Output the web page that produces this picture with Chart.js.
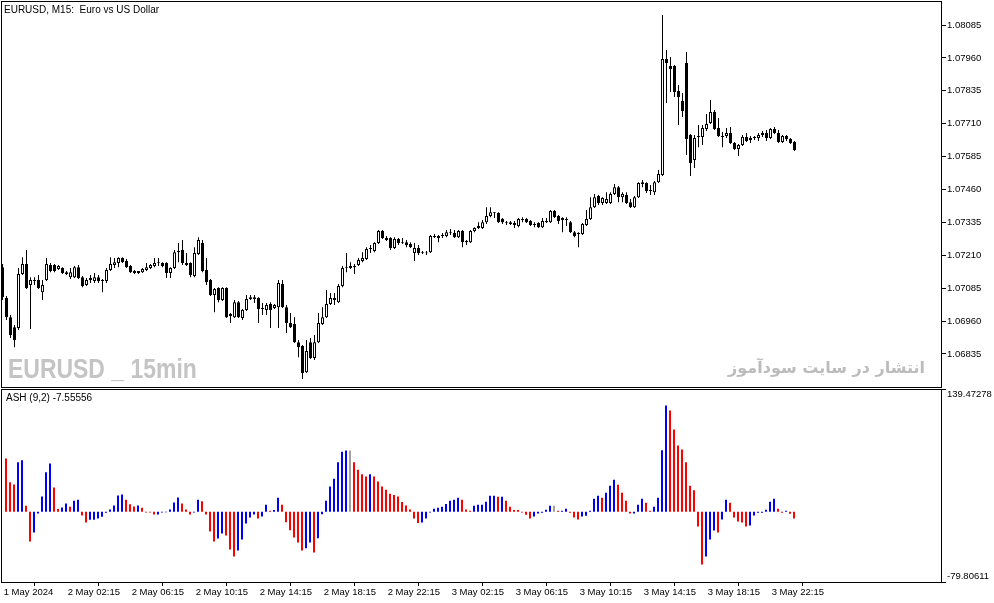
<!DOCTYPE html>
<html lang="en">
<head>
<meta charset="UTF-8">
<title>EURUSD M15 + ASH</title>
<script src="https://cdn.jsdelivr.net/npm/chart.js"></script>
<style>
  body { margin: 0; background: #fff; width: 994px; height: 603px; overflow: hidden; position: relative; }
  canvas { position: absolute; left: 0; }
  .txt { position: absolute; white-space: nowrap; font-family: 'Liberation Sans', Arial, sans-serif; color: #000; }
</style>
</head>
<body>
<canvas id="priceChart" width="994" height="388" style="top:0"></canvas>
<canvas id="ashChart" width="994" height="215" style="top:388px"></canvas>

<div class="txt" style="left:4px; top:4px; font-size:10px; line-height:12px;">EURUSD, M15:&nbsp; Euro vs US Dollar</div>
<div class="txt" style="left:6px; top:392px; font-size:10px; line-height:12px;">ASH (9,2) -7.55556</div>
<div class="txt" style="left:8px; top:355px; font-size:28px; line-height:28px; font-weight:bold; color:#c4c4c4; transform:scaleX(0.82); transform-origin:left top;">EURUSD _ 15min</div>
<div class="txt" dir="rtl" style="right:69px; top:357px; font-family:'DejaVu Sans', sans-serif; font-size:16px; line-height:22px; font-weight:bold; color:#bcbcbc;">انتشار در سایت سودآموز</div>

<script>
// 15 min bars, 1 May 22:15 .. 3 May 23:45
const timeLabels = ['1 May 2024', '2 May 02:15', '2 May 06:15', '2 May 10:15', '2 May 14:15', '2 May 18:15',
  '2 May 22:15', '3 May 02:15', '3 May 06:15', '3 May 10:15', '3 May 14:15', '3 May 18:15', '3 May 22:15'];
const priceTicks = [1.06835, 1.06960, 1.07085, 1.07210, 1.07335, 1.07460, 1.07585, 1.07710, 1.07835, 1.07960, 1.08085];
const ashRange = [-79.80611, 139.47278];

const openP = [
  1.07165, 1.07048, 1.06975, 1.06937, 1.06934, 1.07139, 1.07177, 1.07097, 1.07112, 1.07116,
  1.07070, 1.07116, 1.07173, 1.07173, 1.07158, 1.07162, 1.07146, 1.07127, 1.07127, 1.07165,
  1.07127, 1.07097, 1.07116, 1.07112, 1.07127, 1.07116, 1.07112, 1.07154, 1.07173, 1.07181,
  1.07200, 1.07188, 1.07169, 1.07150, 1.07150, 1.07146, 1.07154, 1.07162, 1.07169, 1.07181,
  1.07181, 1.07181, 1.07143, 1.07162, 1.07222, 1.07230, 1.07181, 1.07181, 1.07131, 1.07215,
  1.07257, 1.07154, 1.07116, 1.07059, 1.07086, 1.07040, 1.07086, 1.06987, 1.06975, 1.07032,
  1.06972, 1.07002, 1.07044, 1.07044, 1.07048, 1.07010, 1.07002, 1.07025, 1.07010, 1.07013,
  1.07101, 1.07013, 1.06953, 1.06949, 1.06880, 1.06865, 1.06766, 1.06880, 1.06820, 1.06880,
  1.06949, 1.06975, 1.07025, 1.07048, 1.07032, 1.07093, 1.07162, 1.07162, 1.07169, 1.07173,
  1.07188, 1.07196, 1.07234, 1.07226, 1.07257, 1.07302, 1.07276, 1.07276, 1.07238, 1.07272,
  1.07260, 1.07260, 1.07253, 1.07219, 1.07238, 1.07222, 1.07221, 1.07222, 1.07283, 1.07283,
  1.07283, 1.07283, 1.07298, 1.07295, 1.07279, 1.07302, 1.07264, 1.07260, 1.07302, 1.07314,
  1.07314, 1.07336, 1.07359, 1.07374, 1.07371, 1.07348, 1.07336, 1.07336, 1.07333, 1.07321,
  1.07348, 1.07348, 1.07340, 1.07329, 1.07333, 1.07317, 1.07340, 1.07336, 1.07378, 1.07359,
  1.07352, 1.07348, 1.07336, 1.07298, 1.07295, 1.07291, 1.07325, 1.07348, 1.07393, 1.07435,
  1.07409, 1.07409, 1.07409, 1.07443, 1.07469, 1.07431, 1.07439, 1.07412, 1.07393, 1.07431,
  1.07481, 1.07485, 1.07458, 1.07450, 1.07488, 1.07515, 1.07956, 1.07929, 1.07929, 1.07834,
  1.07796, 1.07941, 1.07667, 1.07572, 1.07659, 1.07659, 1.07690, 1.07713, 1.07754, 1.07694,
  1.07663, 1.07663, 1.07675, 1.07637, 1.07614, 1.07629, 1.07659, 1.07648, 1.07656, 1.07656,
  1.07667, 1.07675, 1.07656, 1.07690, 1.07675, 1.07640, 1.07663, 1.07652, 1.07640
];
const highP = [
  1.07177, 1.07055, 1.06983, 1.06945, 1.07162, 1.07203, 1.07230, 1.07127, 1.07127, 1.07135,
  1.07116, 1.07200, 1.07181, 1.07177, 1.07173, 1.07165, 1.07150, 1.07162, 1.07169, 1.07173,
  1.07131, 1.07124, 1.07135, 1.07143, 1.07135, 1.07120, 1.07162, 1.07203, 1.07200, 1.07203,
  1.07203, 1.07196, 1.07173, 1.07154, 1.07150, 1.07162, 1.07181, 1.07177, 1.07200, 1.07200,
  1.07184, 1.07184, 1.07165, 1.07230, 1.07257, 1.07268, 1.07219, 1.07184, 1.07241, 1.07279,
  1.07268, 1.07200, 1.07120, 1.07086, 1.07089, 1.07089, 1.07089, 1.06991, 1.07040, 1.07036,
  1.07006, 1.07059, 1.07059, 1.07059, 1.07051, 1.07029, 1.07029, 1.07032, 1.07025, 1.07116,
  1.07116, 1.07021, 1.06991, 1.06975, 1.06888, 1.06869, 1.06888, 1.06896, 1.06907, 1.06991,
  1.07013, 1.07078, 1.07067, 1.07067, 1.07101, 1.07169, 1.07219, 1.07184, 1.07177, 1.07200,
  1.07222, 1.07241, 1.07249, 1.07260, 1.07306, 1.07306, 1.07283, 1.07279, 1.07279, 1.07276,
  1.07276, 1.07268, 1.07260, 1.07257, 1.07249, 1.07226, 1.07226, 1.07287, 1.07291, 1.07287,
  1.07295, 1.07306, 1.07310, 1.07306, 1.07306, 1.07306, 1.07268, 1.07306, 1.07317, 1.07336,
  1.07344, 1.07393, 1.07393, 1.07374, 1.07374, 1.07352, 1.07340, 1.07340, 1.07340, 1.07352,
  1.07355, 1.07352, 1.07344, 1.07336, 1.07336, 1.07352, 1.07352, 1.07382, 1.07382, 1.07363,
  1.07355, 1.07355, 1.07340, 1.07302, 1.07298, 1.07333, 1.07382, 1.07431, 1.07443, 1.07439,
  1.07431, 1.07450, 1.07450, 1.07481, 1.07473, 1.07450, 1.07450, 1.07424, 1.07435, 1.07488,
  1.07496, 1.07488, 1.07477, 1.07492, 1.07534, 1.08123, 1.07990, 1.07963, 1.07933, 1.07857,
  1.07827, 1.07982, 1.07671, 1.07667, 1.07705, 1.07705, 1.07747, 1.07800, 1.07762, 1.07732,
  1.07678, 1.07694, 1.07697, 1.07640, 1.07633, 1.07667, 1.07675, 1.07663, 1.07663, 1.07675,
  1.07682, 1.07686, 1.07694, 1.07697, 1.07686, 1.07667, 1.07667, 1.07656, 1.07644
];
const lowP = [
  1.07040, 1.06964, 1.06896, 1.06861, 1.06926, 1.07135, 1.07082, 1.06930, 1.07097, 1.07082,
  1.07040, 1.07112, 1.07146, 1.07146, 1.07154, 1.07139, 1.07135, 1.07120, 1.07124, 1.07120,
  1.07089, 1.07093, 1.07105, 1.07105, 1.07105, 1.07070, 1.07105, 1.07150, 1.07162, 1.07165,
  1.07181, 1.07162, 1.07143, 1.07139, 1.07139, 1.07143, 1.07150, 1.07158, 1.07165, 1.07169,
  1.07165, 1.07124, 1.07124, 1.07158, 1.07184, 1.07173, 1.07169, 1.07127, 1.07127, 1.07211,
  1.07146, 1.07097, 1.07055, 1.06994, 1.07032, 1.07036, 1.06972, 1.06953, 1.06972, 1.06972,
  1.06964, 1.06998, 1.07040, 1.07029, 1.06953, 1.06983, 1.06983, 1.06934, 1.07006, 1.06934,
  1.07010, 1.06915, 1.06934, 1.06877, 1.06823, 1.06740, 1.06763, 1.06816, 1.06812, 1.06877,
  1.06945, 1.06972, 1.07021, 1.07021, 1.07029, 1.07089, 1.07146, 1.07158, 1.07139, 1.07169,
  1.07184, 1.07192, 1.07219, 1.07222, 1.07253, 1.07272, 1.07264, 1.07230, 1.07234, 1.07249,
  1.07253, 1.07241, 1.07238, 1.07188, 1.07211, 1.07215, 1.07211, 1.07219, 1.07276, 1.07260,
  1.07276, 1.07279, 1.07287, 1.07276, 1.07276, 1.07241, 1.07249, 1.07257, 1.07298, 1.07310,
  1.07310, 1.07329, 1.07355, 1.07352, 1.07333, 1.07329, 1.07325, 1.07325, 1.07314, 1.07317,
  1.07336, 1.07333, 1.07321, 1.07317, 1.07314, 1.07314, 1.07333, 1.07333, 1.07352, 1.07329,
  1.07298, 1.07321, 1.07295, 1.07279, 1.07241, 1.07287, 1.07321, 1.07344, 1.07390, 1.07401,
  1.07401, 1.07405, 1.07405, 1.07439, 1.07412, 1.07412, 1.07405, 1.07390, 1.07390, 1.07428,
  1.07469, 1.07447, 1.07439, 1.07439, 1.07485, 1.07511, 1.07789, 1.07830, 1.07811, 1.07705,
  1.07735, 1.07591, 1.07511, 1.07542, 1.07621, 1.07629, 1.07682, 1.07709, 1.07686, 1.07659,
  1.07621, 1.07656, 1.07633, 1.07610, 1.07587, 1.07625, 1.07640, 1.07637, 1.07648, 1.07644,
  1.07659, 1.07644, 1.07652, 1.07671, 1.07637, 1.07637, 1.07644, 1.07633, 1.07606
];
const closeP = [
  1.07051, 1.06975, 1.06907, 1.06888, 1.07139, 1.07177, 1.07086, 1.07116, 1.07116, 1.07086,
  1.07097, 1.07177, 1.07150, 1.07150, 1.07169, 1.07143, 1.07139, 1.07146, 1.07165, 1.07124,
  1.07093, 1.07116, 1.07124, 1.07127, 1.07112, 1.07112, 1.07154, 1.07177, 1.07184, 1.07200,
  1.07184, 1.07165, 1.07146, 1.07143, 1.07143, 1.07158, 1.07165, 1.07173, 1.07181, 1.07184,
  1.07169, 1.07143, 1.07162, 1.07222, 1.07226, 1.07181, 1.07173, 1.07135, 1.07219, 1.07268,
  1.07150, 1.07108, 1.07059, 1.07082, 1.07040, 1.07086, 1.06975, 1.06979, 1.07032, 1.06975,
  1.07002, 1.07044, 1.07051, 1.07051, 1.07006, 1.07006, 1.07021, 1.07002, 1.07021, 1.07105,
  1.07013, 1.06953, 1.06937, 1.06880, 1.06861, 1.06763, 1.06846, 1.06820, 1.06880, 1.06953,
  1.06975, 1.07025, 1.07048, 1.07040, 1.07093, 1.07162, 1.07165, 1.07169, 1.07165, 1.07192,
  1.07200, 1.07234, 1.07238, 1.07257, 1.07302, 1.07276, 1.07268, 1.07238, 1.07272, 1.07257,
  1.07257, 1.07249, 1.07241, 1.07238, 1.07219, 1.07219, 1.07218, 1.07283, 1.07279, 1.07276,
  1.07287, 1.07298, 1.07295, 1.07279, 1.07302, 1.07260, 1.07260, 1.07302, 1.07314, 1.07321,
  1.07336, 1.07359, 1.07374, 1.07371, 1.07336, 1.07336, 1.07333, 1.07329, 1.07325, 1.07348,
  1.07344, 1.07336, 1.07325, 1.07325, 1.07317, 1.07340, 1.07336, 1.07378, 1.07355, 1.07340,
  1.07344, 1.07344, 1.07298, 1.07283, 1.07291, 1.07329, 1.07348, 1.07393, 1.07431, 1.07409,
  1.07428, 1.07424, 1.07443, 1.07469, 1.07431, 1.07443, 1.07409, 1.07393, 1.07431, 1.07485,
  1.07488, 1.07454, 1.07454, 1.07488, 1.07519, 1.07956, 1.07941, 1.07918, 1.07830, 1.07811,
  1.07758, 1.07652, 1.07561, 1.07656, 1.07663, 1.07694, 1.07709, 1.07754, 1.07690, 1.07663,
  1.07659, 1.07675, 1.07637, 1.07614, 1.07629, 1.07659, 1.07644, 1.07656, 1.07659, 1.07667,
  1.07675, 1.07656, 1.07690, 1.07675, 1.07640, 1.07663, 1.07652, 1.07637, 1.07610
];

// ASH (9,2) histogram, state b = bulls, r = bears, g = neutral
const ashVal = [
  null, 60.4, 33.4, 31.1, 56.2, 58.4, 6.8, -33.8, -23.6, -2.0,
  17.4, 44.8, 54.7, 27.7, 3.0, 4.9, 9.5, 5.7, 12.5, 13.7,
  -4.2, -12.2, -9.1, -9.1, -7.6, -5.7, -1.0, 2.7, 7.2, 18.6,
  19.7, 13.7, 8.4, 6.1, 7.2, 4.6, -0.8, -0.8, -3.0, -3.0,
  -0.9, -0.5, 2.7, 10.6, 16.3, 9.5, 2.7, -3.0, -0.9, 13.7,
  11.8, -3.0, -22.4, -33.8, -30.4, -24.7, -27.0, -42.9, -50.9, -44.0,
  -31.5, -13.3, -6.5, -3.0, -7.6, -5.3, 8.0, 1.1, 1.9, 15.9,
  8.0, -11.8, -20.9, -29.2, -34.9, -44.0, -41.4, -34.9, -46.3, -30.0,
  -2.7, 12.5, 28.8, 37.6, 56.2, 68.3, 69.5, 69.5, 56.2, 47.8,
  42.5, 40.2, 42.5, 40.2, 34.5, 28.8, 25.1, 20.5, 19.0, 17.4,
  11.0, 7.2, 2.7, -7.6, -12.9, -12.2, -7.6, -0.9, 3.4, 4.6,
  5.7, 8.7, 12.5, 13.7, 15.9, 13.7, 2.7, 1.1, 6.8, 8.0,
  8.0, 11.4, 18.2, 18.2, 17.1, 17.1, 12.5, 5.7, 1.9, 1.9,
  -0.8, -3.4, -7.6, -5.3, -1.9, -1.1, 2.3, 6.8, 6.8, 1.1,
  1.1, 3.4, -1.1, -6.5, -8.7, -5.3, -4.6, 1.1, 14.8, 18.2,
  15.9, 21.6, 29.6, 36.4, 30.8, 21.6, 12.5, -1.9, -1.9, 8.0,
  14.8, 10.3, 1.1, 5.7, 15.9, 69.8, 120.7, 115.0, 93.4, 75.2,
  70.6, 56.2, 29.6, 24.3, -16.7, -60.0, -50.9, -31.5, -21.3, -23.6,
  -8.7, 13.7, 10.3, -6.5, -11.0, -12.2, -16.7, -15.6, -4.2, -1.1,
  -1.1, 2.3, 11.4, 14.8, 3.4, -1.1, 1.1, -2.3, -7.55556
];
const ashState = (
  'rrrrbbrrbbb' + 'bbrrbbrbbr' + 'rbbbbbbbbb' + 'rrrbrrrrbb' + 'bbbbrrrbbr' +
  'rrrbbrrrbb' + 'bbbrbbrbbr' + 'rrrrrbbrbb' + 'bbbbbbgrrr' + 'rbrrrrrrrr' +
  'rrrrbbbbbb' + 'bbbbrrrbbb' + 'bbbrbrrrrr' + 'rrbbbbbgrb' + 'brrrbbbbbr' +
  'bbbrrrrbbb' + 'rrbbbbrrrr' + 'rrrrrbbbrb' + 'brrrrrbbbb' + 'bbbrrbrr'
).split('');

const ashColors = { b: '#0000ff', r: '#ff0000', g: '#a0a0a0' };
const axisFont = { family: "'Liberation Sans', Arial, sans-serif", size: 9.5 };

// black frame around each pane, as the terminal draws it
const framePlugin = {
  id: 'frame',
  afterDraw(chart) {
    const a = chart.chartArea, ctx = chart.ctx;
    ctx.save();
    ctx.strokeStyle = '#000';
    ctx.lineWidth = 1;
    ctx.strokeRect(a.left + 0.5, a.top + 0.5, a.right - a.left, a.bottom - a.top);
    ctx.restore();
  }
};

// fixed axis size, no extra room reserved for edge labels
const fixAxis = (w, h) => s => {
  if (w) s.width = w;
  if (h) s.height = h;
  s.paddingTop = 0; s.paddingBottom = 0; s.paddingLeft = 0; s.paddingRight = 0;
};

const idx = openP.map((_, i) => i);

new Chart(document.getElementById('priceChart'), {
  type: 'bar',
  data: {
    datasets: [
      {
        // candle bodies
        data: idx.map(i => ({ x: i, y: [openP[i], closeP[i]] })),
        backgroundColor: idx.map(i => closeP[i] >= openP[i] ? '#ffffff' : '#000000'),
        borderColor: '#000',
        borderWidth: 1,
        borderSkipped: false,
        barThickness: 3,
        grouped: false,
        inflateAmount: 0
      },
      {
        // wicks
        data: idx.map(i => ({ x: i, y: [lowP[i], highP[i]] })),
        backgroundColor: '#000',
        borderWidth: 0,
        barThickness: 1,
        grouped: false,
        inflateAmount: 0
      }
    ]
  },
  options: {
    responsive: false,
    animation: false,
    events: [],
    layout: { padding: { left: 1, top: 1, bottom: 1, right: 0 } },
    plugins: { legend: { display: false }, tooltip: { enabled: false } },
    scales: {
      x: { type: 'linear', display: false, offset: false, min: -0.375, max: 234.625 },
      y: {
        position: 'right',
        min: 1.067096, max: 1.081762,
        afterBuildTicks: s => { s.ticks = priceTicks.map(v => ({ value: v })); },
        afterFit: fixAxis(53, 0),
        ticks: { color: '#000', font: axisFont, padding: 1, callback: v => v.toFixed(5) },
        grid: { drawOnChartArea: false, drawTicks: true, tickLength: 5, color: '#000' },
        border: { display: false }
      }
    }
  },
  plugins: [framePlugin]
});

new Chart(document.getElementById('ashChart'), {
  type: 'bar',
  data: {
    datasets: [{
      data: idx.map(i => ({ x: i, y: ashVal[i] })),
      backgroundColor: ashState.map(s => ashColors[s]),
      borderWidth: 0,
      barThickness: 2,
      grouped: false,
      inflateAmount: 0
    }]
  },
  options: {
    responsive: false,
    animation: false,
    events: [],
    layout: { padding: { left: 1, top: 1, bottom: 0, right: 0 } },
    plugins: { legend: { display: false }, tooltip: { enabled: false } },
    scales: {
      x: {
        type: 'linear', offset: false, min: -0.25, max: 234.75,
        afterBuildTicks: s => { s.ticks = timeLabels.map((t, k) => ({ value: 16 * k + 0.175 })); },
        afterFit: fixAxis(0, 21),
        ticks: {
          color: '#000', font: axisFont, padding: 1, align: 'start', labelOffset: 1,
          autoSkip: false, maxRotation: 0, callback: (v, k) => timeLabels[k]
        },
        grid: { drawOnChartArea: false, drawTicks: true, tickLength: 4, color: '#000' },
        border: { display: false }
      },
      y: {
        position: 'right',
        min: ashRange[0], max: ashRange[1],
        afterBuildTicks: s => { s.ticks = [{ value: ashRange[1] }, { value: ashRange[0] }]; },
        afterFit: fixAxis(53, 0),
        ticks: {
          color: '#000', font: axisFont, padding: 1,
          // labels sit inside the pane, below the top tick and above the bottom one
          callback: v => v > 0 ? ['', v.toFixed(5)] : [v.toFixed(5), '']
        },
        grid: { drawOnChartArea: false, drawTicks: true, tickLength: 5, color: '#000' },
        border: { display: false }
      }
    }
  },
  plugins: [framePlugin]
});
</script>
</body>
</html>
